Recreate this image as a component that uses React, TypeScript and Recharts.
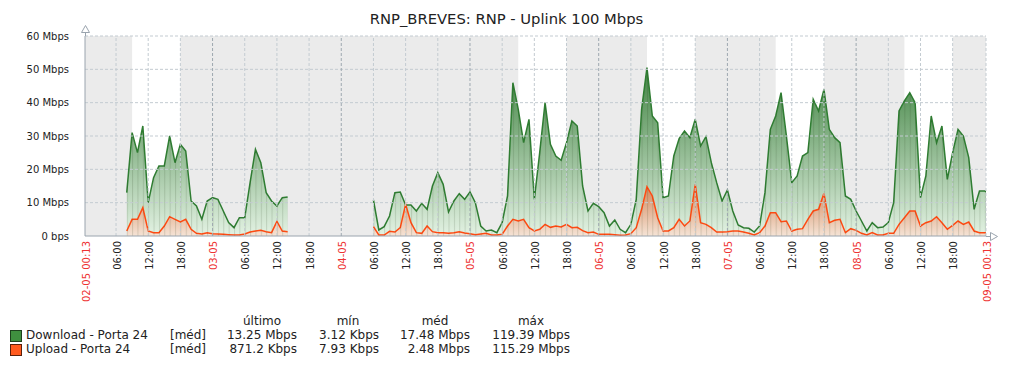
import {
  Area,
  ComposedChart,
  ReferenceArea,
  ReferenceLine,
  XAxis,
  YAxis,
} from "recharts";

const title = "RNP_BREVES: RNP - Uplink 100 Mbps";

// hours counted from 02-05 00:00
const startHour = 0.2167;
const endHour = 168.2167;
const firstSampleHour = 8;

// hourly samples from 02-05 08:00, null = no data
const downloadMbps = [
  13, 31, 25, 33, 10, 17.5, 21, 21, 30, 22, 27.5, 25.5, 10.5, 9, 5, 10.5,
  11.5, 11, 7.5, 4, 2.5, 5.5, 5.5, 16, 26, 22, 13, 10.5, 9, 11.5, 11.7,
  null, null, null, null, null, null, null, null, null, null, null, null,
  null, null, null,
  10.8, 1.8, 2.8, 6, 13, 13.2, 9.3, 9.3, 7.5, 9.8, 8, 15, 19, 15.5, 7.2,
  10.5, 12.7, 11, 13.2, 10, 3, 1.5, 1.8, 1, 4, 12, 46, 38, 28, 35, 11, 25,
  40, 27.5, 24, 22.7, 28, 34.5, 33, 15, 7.5, 9.8, 8.8, 7, 3, 4.8, 2, 1, 3.5,
  11, 38, 50.5, 36, 34, 11.5, 12, 24, 29.2, 31.5, 29.5, 35, 27, 29.8, 22, 16,
  10.5, 13.8, 7.5, 3.3, 2.5, 2.3, 1.2, 3, 13, 32, 36, 43, 30, 16, 18, 24, 25,
  41, 37.5, 44, 32, 29.5, 28, 12, 11, 7.5, 4.5, 1.5, 4, 2.5, 2.7, 4, 10,
  37.5, 40.5, 43, 40, 11.5, 18, 36, 28, 33, 17, 25, 32, 30, 23.5, 8, 13.5,
  13.5,
];

const uploadMbps = [
  1.5, 5, 5, 8.5, 1.5, 1, 1, 3, 5.8, 5, 4.2, 5, 2, 0.8, 0.6, 1, 0.7, 0.6,
  0.5, 0.4, 0.3, 0.3, 0.6, 1.2, 1.5, 1.7, 1.3, 1, 4.4, 1.5, 1.3,
  null, null, null, null, null, null, null, null, null, null, null, null,
  null, null, null,
  2.8, 0.3, 0.3, 1.4, 1.2, 2.5, 9.5, 4, 1, 0.8, 3, 1.3, 1, 1, 0.8, 1, 1.3,
  0.9, 0.7, 0.4, 0.6, 0.8, 0.3, 0.3, 0.5, 3, 5, 4.5, 5, 2.5, 1.5, 2, 3.5,
  2.6, 3, 2.7, 3.5, 2.5, 2.6, 1.6, 1, 1.2, 0.5, 0.5, 0.5, 0.4, 0.2, 0.3, 0.7,
  2.5, 8, 14.8, 12, 5.5, 1.5, 1.5, 2.5, 5, 3, 4.5, 15.5, 4, 3.5, 2.5, 1.2,
  1.2, 1.3, 1.5, 1.5, 1.2, 0.8, 0.3, 1, 3, 7, 7, 4.3, 4.5, 1.5, 2, 2.2, 5,
  7.5, 8, 12.8, 4, 4.7, 5, 1, 2.2, 1.7, 0.8, 0.3, 1, 0.3, 0.3, 0.8, 0.8, 3.5,
  5.5, 7.5, 7.5, 3, 4, 4.5, 5.8, 4, 2, 3.2, 4.5, 3.5, 4.2, 1.5, 1, 1,
];

const lastDownload = 13.25;
const lastUpload = 0.8712;

const tickHours = [
  startHour, 6, 12, 18, 24, 30, 36, 42, 48, 54, 60, 66, 72, 78, 84, 90, 96,
  102, 108, 114, 120, 126, 132, 138, 144, 150, 156, 162, endHour,
];
const tickLabels = [
  "02-05 00:13", "06:00", "12:00", "18:00", "03-05", "06:00", "12:00",
  "18:00", "04-05", "06:00", "12:00", "18:00", "05-05", "06:00", "12:00",
  "18:00", "06-05", "06:00", "12:00", "18:00", "07-05", "06:00", "12:00",
  "18:00", "08-05", "06:00", "12:00", "18:00", "09-05 00:13",
];
const yTicks = [0, 10, 20, 30, 40, 50, 60];

// working time (white), everything else is shaded
const workPeriods = [
  [9, 18],
  [81, 90],
  [105, 114],
  [129, 138],
  [153, 162],
];

const legendRows = [
  {
    name: "Download - Porta 24",
    color: "#3f8f3f",
    border: "#1d401d",
    values: ["13.25 Mbps", "3.12 Kbps", "17.48 Mbps", "119.39 Mbps"],
  },
  {
    name: "Upload - Porta 24",
    color: "#ff5a1e",
    border: "#5a200a",
    values: ["871.2 Kbps", "7.93 Kbps", "2.48 Mbps", "115.29 Mbps"],
  },
];
const legendHeaders = ["último", "mín", "méd", "máx"];

const data = downloadMbps.map((d, i) => ({
  hour: firstSampleHour + i,
  download: d,
  upload: uploadMbps[i],
}));
data.push({ hour: endHour, download: lastDownload, upload: lastUpload });

const font = "'DejaVu Sans', sans-serif";
const textColor = "#222";
const axisColor = "#9aa4ae";
const gridColor = "#c3cbd1";
const dayGridColor = "#9ea8b0";

const XTick = (props: any) => {
  const { x, y, payload } = props;
  const i = tickHours.indexOf(payload.value);
  const label = tickLabels[i] ?? "";
  const isDate = label.includes("-");
  return (
    <text
      x={x + 1}
      y={y}
      transform={`rotate(-90 ${x + 1} ${y})`}
      textAnchor="end"
      dominantBaseline="central"
      fontSize={10}
      fontFamily={font}
      fill={isDate ? "#ee3333" : textColor}
    >
      {label}
    </text>
  );
};

const valueCols = [297, 379, 470, 570];
const headerCenters = [262, 348, 435, 531];

export default function App() {
  return (
    <div
      style={{
        position: "absolute",
        left: 0,
        top: 0,
        width: 1016,
        height: 368,
        background: "#fff",
        fontFamily: font,
        color: textColor,
      }}
    >
      <div
        style={{
          position: "absolute",
          top: 10,
          left: 0,
          width: 1013,
          textAlign: "center",
          fontSize: 14.75,
        }}
      >
        {title}
      </div>

      <ComposedChart
        width={1016}
        height={368}
        data={data}
        margin={{ top: 36, right: 30, bottom: 0, left: 5 }}
      >
        <defs>
          <linearGradient
            id="dlFill"
            gradientUnits="userSpaceOnUse"
            x1="0"
            y1="36"
            x2="0"
            y2="236"
          >
            <stop offset="0%" stopColor="#226f24" />
            <stop offset="100%" stopColor="#e3f2e3" />
          </linearGradient>
          <linearGradient
            id="ulFill"
            gradientUnits="userSpaceOnUse"
            x1="0"
            y1="186"
            x2="0"
            y2="236"
          >
            <stop offset="0%" stopColor="#d3875a" />
            <stop offset="100%" stopColor="#f5e3d5" />
          </linearGradient>
          <pattern
            id="stripes"
            patternUnits="userSpaceOnUse"
            x={83.84}
            y={0}
            width={5.363}
            height={368}
          >
            <rect x={0} y={0} width={1} height={368} fill="rgba(20,40,10,0.14)" />
          </pattern>
        </defs>

        <ReferenceArea
          x1={startHour}
          x2={endHour}
          y1={0}
          y2={60}
          fill="#ebebeb"
          fillOpacity={1}
          stroke="none"
        />
        {workPeriods.map(([a, b]) => (
          <ReferenceArea
            key={a}
            x1={a}
            x2={b}
            y1={0}
            y2={60}
            fill="#ffffff"
            fillOpacity={1}
            stroke="none"
          />
        ))}

        {yTicks.slice(1).map((v) => (
          <ReferenceLine
            key={`y${v}`}
            y={v}
            stroke={gridColor}
            strokeDasharray="3 2"
          />
        ))}
        {tickHours.slice(1).map((h) => (
          <ReferenceLine
            key={`x${h}`}
            x={h}
            stroke={h % 24 === 0 ? dayGridColor : gridColor}
            strokeDasharray="3 2"
          />
        ))}

        <XAxis
          type="number"
          dataKey="hour"
          domain={[startHour, endHour]}
          ticks={tickHours}
          interval={0}
          allowDataOverflow
          height={132}
          tickLine={false}
          tickSize={0}
          tickMargin={5}
          axisLine={{ stroke: axisColor }}
          tick={<XTick />}
        />
        <YAxis
          domain={[0, 60]}
          ticks={yTicks}
          width={80}
          tickLine={false}
          tickMargin={10}
          axisLine={{ stroke: axisColor }}
          tick={{ fontSize: 10, fontFamily: font, fill: textColor }}
          tickFormatter={(v: number) => (v === 0 ? "0 bps" : `${v} Mbps`)}
        />

        <Area
          type="linear"
          dataKey="download"
          stroke="#2f7d32"
          strokeWidth={1.5}
          fill="url(#dlFill)"
          fillOpacity={1}
          connectNulls={false}
          dot={false}
          activeDot={false}
          isAnimationActive={false}
        />
        <Area
          type="linear"
          dataKey="download"
          stroke="none"
          fill="url(#stripes)"
          fillOpacity={1}
          connectNulls={false}
          dot={false}
          activeDot={false}
          isAnimationActive={false}
        />
        <Area
          type="linear"
          dataKey="upload"
          stroke="#ff4a12"
          strokeWidth={1.5}
          fill="url(#ulFill)"
          fillOpacity={1}
          connectNulls={false}
          dot={false}
          activeDot={false}
          isAnimationActive={false}
        />
        <Area
          type="linear"
          dataKey="upload"
          stroke="none"
          fill="url(#stripes)"
          fillOpacity={1}
          connectNulls={false}
          dot={false}
          activeDot={false}
          isAnimationActive={false}
        />
      </ComposedChart>

      {/* axis arrows */}
      <svg
        width={1016}
        height={368}
        style={{ position: "absolute", left: 0, top: 0, pointerEvents: "none" }}
      >
        <line x1={85.5} y1={36} x2={85.5} y2={32} stroke={axisColor} />
        <path d="M81.5 32.5 L85.5 25.5 L89.5 32.5 Z" fill="#fff" stroke={axisColor} />
        <line x1={986} y1={236.5} x2={990} y2={236.5} stroke={axisColor} />
        <path d="M990.5 232.5 L997.5 236.5 L990.5 240.5 Z" fill="#fff" stroke={axisColor} />
      </svg>

      {/* legend */}
      <div style={{ position: "absolute", left: 0, top: 0, fontSize: 12 }}>
        {legendHeaders.map((h, i) => (
          <div
            key={h}
            style={{
              position: "absolute",
              left: headerCenters[i] - 50,
              width: 100,
              top: 314,
              textAlign: "center",
              whiteSpace: "nowrap",
            }}
          >
            {h}
          </div>
        ))}
        {legendRows.map((row, r) => (
          <div key={row.name}>
            <div
              style={{
                position: "absolute",
                left: 10,
                top: 330 + r * 14,
                width: 10,
                height: 10,
                background: row.color,
                border: `1px solid ${row.border}`,
              }}
            />
            <div
              style={{
                position: "absolute",
                left: 26,
                top: 328 + r * 14,
                whiteSpace: "nowrap",
              }}
            >
              {row.name}
            </div>
            <div
              style={{
                position: "absolute",
                left: 170,
                top: 328 + r * 14,
                whiteSpace: "nowrap",
              }}
            >
              [méd]
            </div>
            {row.values.map((v, i) => (
              <div
                key={i}
                style={{
                  position: "absolute",
                  left: valueCols[i] - 120,
                  width: 120,
                  top: 328 + r * 14,
                  textAlign: "right",
                  whiteSpace: "nowrap",
                }}
              >
                {v}
              </div>
            ))}
          </div>
        ))}
      </div>
    </div>
  );
}
